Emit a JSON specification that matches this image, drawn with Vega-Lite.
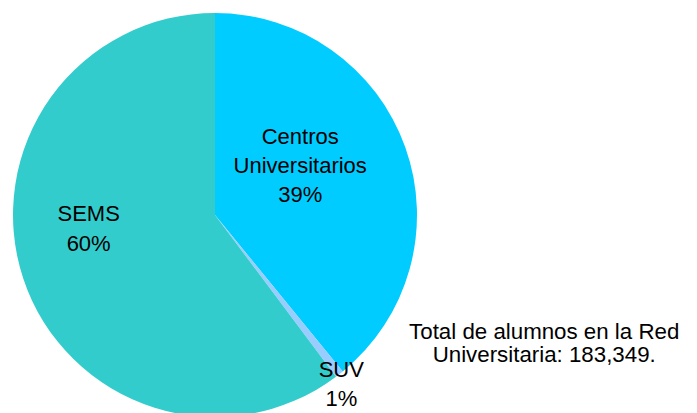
{
  "$schema": "https://vega.github.io/schema/vega-lite/v6.json",
  "width": 430,
  "height": 396,
  "autosize": "none",
  "padding": {"left": 0, "top": 17, "right": 267, "bottom": 0},
  "background": "white",
  "config": {"view": {"stroke": null}},
  "title": {
    "text": ["Total de alumnos en la Red", "Universitaria: 183,349."],
    "orient": "right",
    "angle": 0,
    "anchor": "middle",
    "align": "center",
    "baseline": "middle",
    "offset": -156,
    "dy": 117,
    "font": "Liberation Sans",
    "fontSize": 22.3,
    "fontWeight": "normal",
    "lineHeight": 23,
    "color": "black"
  },
  "data": {
    "values": [
      {"categoria": "Centros Universitarios", "alumnos": 71700, "orden": 1, "etiqueta": "Centros\nUniversitarios\n39%"},
      {"categoria": "SUV", "alumnos": 1230, "orden": 2, "etiqueta": "SUV\n1%"},
      {"categoria": "SEMS", "alumnos": 110419, "orden": 3, "etiqueta": "SEMS\n60%"}
    ]
  },
  "encoding": {
    "theta": {"field": "alumnos", "type": "quantitative", "stack": true},
    "order": {"field": "orden", "type": "ordinal"},
    "detail": {"field": "categoria", "type": "nominal"}
  },
  "layer": [
    {
      "mark": {"type": "arc", "outerRadius": 202},
      "encoding": {
        "color": {
          "field": "categoria",
          "type": "nominal",
          "scale": {"domain": ["Centros Universitarios", "SUV", "SEMS"], "range": ["#00CCFF", "#99CCFF", "#33CCCC"]},
          "legend": null
        }
      }
    },
    {
      "mark": {"type": "text", "radius": 100, "dx": -9, "dy": -44, "font": "Liberation Sans", "fontSize": 22, "lineHeight": 29, "lineBreak": "\n", "color": "black", "align": "center", "baseline": "middle"},
      "encoding": {
        "text": {"condition": {"test": "datum.categoria === 'Centros Universitarios'", "field": "etiqueta"}, "value": ""}
      }
    },
    {
      "mark": {"type": "text", "radius": 130, "dx": -3, "dy": -42, "font": "Liberation Sans", "fontSize": 22, "lineHeight": 30, "lineBreak": "\n", "color": "black", "align": "center", "baseline": "middle"},
      "encoding": {
        "text": {"condition": {"test": "datum.categoria === 'SEMS'", "field": "etiqueta"}, "value": ""}
      }
    },
    {
      "mark": {"type": "text", "radius": 210, "dx": -3, "dy": -10, "font": "Liberation Sans", "fontSize": 22, "lineHeight": 29, "lineBreak": "\n", "color": "black", "align": "center", "baseline": "middle"},
      "encoding": {
        "text": {"condition": {"test": "datum.categoria === 'SUV'", "field": "etiqueta"}, "value": ""}
      }
    }
  ]
}
